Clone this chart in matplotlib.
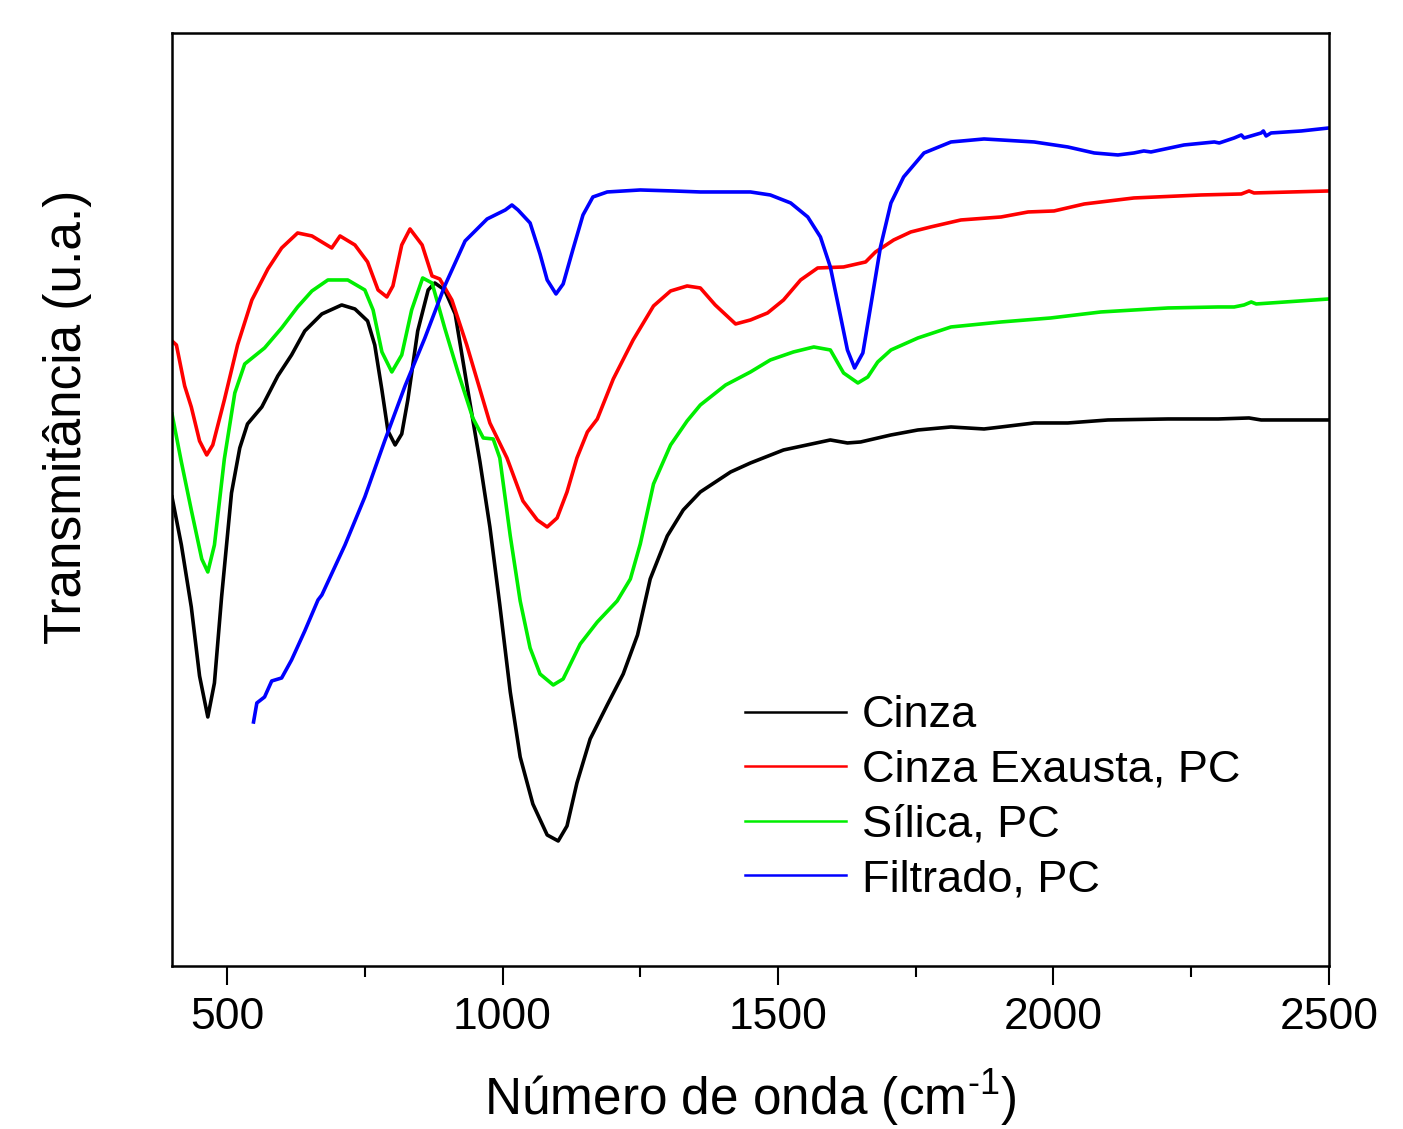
import matplotlib.pyplot as plt
from matplotlib.ticker import MultipleLocator, NullLocator

plt.rcParams['font.family'] = ['Liberation Sans', 'DejaVu Sans']
plt.rcParams['mathtext.fontset'] = 'custom'
plt.rcParams['mathtext.rm'] = 'Liberation Sans'
plt.rcParams['mathtext.default'] = 'regular'

# Cinza
cinza_x = [400, 417, 435, 450, 465, 477, 490, 508, 523, 537, 563, 592, 617, 641, 672, 708,
           732, 755, 768, 781, 792, 805, 817, 828, 846, 865, 877, 895, 914, 935, 959, 977,
           995, 1014, 1032, 1055, 1081, 1101, 1117, 1135, 1159, 1190, 1219, 1245, 1268, 1299,
           1328, 1359, 1414, 1450, 1510, 1595, 1626, 1650, 1705, 1754, 1814, 1874, 1905, 1965,
           2026, 2099, 2208, 2299, 2355, 2377, 2500]
cinza_y = [469, 421, 359, 290, 249, 283, 369, 473, 518, 542, 559, 590, 611, 635, 652, 661,
           657, 645, 621, 576, 535, 521, 532, 566, 635, 676, 683, 676, 652, 582, 504, 439,
           361, 274, 209, 162, 131, 125, 140, 183, 227, 261, 292, 331, 387, 430,
           456, 474, 494, 503, 516, 526, 523, 524, 531, 536, 539, 537, 539, 543,
           543, 546, 547, 547, 548, 546, 546]

# Cinza Exausta, PC
exausta_x = [400, 408, 423, 435, 450, 463, 474, 495, 519, 545, 574, 599, 628, 654, 690, 705,
             732, 755, 774, 790, 801, 817, 832, 854, 872, 886, 908, 935, 977, 1008, 1037, 1063,
             1081, 1099, 1117, 1135, 1154, 1172, 1201, 1237, 1274, 1305, 1335, 1359, 1386, 1423,
             1450, 1481, 1510, 1541, 1572, 1619, 1659, 1677, 1710, 1741, 1777, 1832, 1905, 1954,
             2001, 2056, 2146, 2268, 2341, 2355, 2364, 2500]
exausta_y = [625, 621, 580, 559, 525, 511, 521, 566, 621, 666, 697, 718, 733, 730, 718, 730,
             721, 704, 676, 669, 680, 721, 737, 721, 690, 687, 666, 621, 543, 508, 465, 446,
             439, 448, 474, 508, 534, 547, 587, 626, 660, 675, 680, 678, 661, 642,
             646, 653, 666, 686, 698, 699, 704, 714, 726, 734, 739, 746, 749, 754,
             755, 762, 768, 771, 772, 775, 773, 775]

# Silica, PC
silica_x = [400, 417, 435, 454, 465, 477, 495, 514, 532, 568, 599, 628, 654, 683, 719, 750,
            765, 781, 799, 817, 835, 855, 872, 895, 919, 946, 965, 983, 995, 1014, 1032, 1050,
            1068, 1092, 1110, 1141, 1172, 1208, 1232, 1250, 1274, 1305, 1335, 1359, 1405, 1450,
            1486, 1528, 1565, 1595, 1619, 1645, 1663, 1681, 1705, 1754, 1814, 1905, 1995, 2086,
            2208, 2299, 2328, 2346, 2359, 2368, 2500]
silica_y = [552, 504, 456, 407, 394, 421, 507, 573, 602, 618, 638, 659, 675, 686, 686, 676,
            656, 614, 594, 611, 656, 688, 683, 638, 594, 548, 528, 527, 508, 430, 365, 318,
            292, 281, 287, 322, 344, 365, 387, 422, 482, 521, 545, 561, 581, 594,
            606, 614, 619, 616, 593, 583, 589, 604, 616, 628, 639, 644, 648, 654,
            658, 659, 659, 661, 664, 662, 667]

# Filtrado, PC
filtrado_x = [548, 554, 561, 568, 581, 599, 617, 641, 665, 672, 714, 750, 786, 823, 859, 895,
              932, 972, 1005, 1017, 1028, 1050, 1068, 1081, 1097, 1110, 1128, 1146, 1164, 1190,
              1250, 1310, 1359, 1450, 1486, 1523, 1554, 1577, 1595, 1610, 1626, 1639, 1654, 1668,
              1686, 1705, 1728, 1765, 1814, 1874, 1905, 1965, 2026, 2074, 2117, 2146, 2164, 2177,
              2237, 2292, 2301, 2328, 2341, 2346, 2377, 2381, 2386, 2395, 2450, 2500]
filtrado_y = [244, 263, 266, 269, 285, 288, 306, 335, 366, 371, 421, 469, 525, 580, 628, 680,
              725, 747, 756, 761, 756, 743, 712, 686, 672, 682, 717, 751, 769, 774,
              776, 775, 774, 774, 771, 763, 749, 729, 699, 659, 616, 598, 613, 659,
              719, 763, 789, 813, 824, 827, 826, 824, 819, 813, 811, 813, 815, 814,
              821, 824, 823, 828, 831, 828, 833, 835, 830, 833, 835, 838]

series = [
    ("Cinza", cinza_x, cinza_y, "#000000"),
    ("Cinza Exausta, PC", exausta_x, exausta_y, "#ff0000"),
    ("Sílica, PC", silica_x, silica_y, "#00ee00"),
    ("Filtrado, PC", filtrado_x, filtrado_y, "#0000ff"),
]

fig = plt.figure(figsize=(14.03, 11.29), dpi=100)
ax = fig.add_axes([0.1226, 0.1444, 0.8246, 0.8264])

for name, xs, ys, col in series:
    ax.plot(xs, ys, color=col, linewidth=2.6, label=name, solid_joinstyle='round')

ax.set_xlim(400, 2500)
ax.set_ylim(0, 933)
ax.xaxis.set_major_locator(MultipleLocator(500))
ax.xaxis.set_minor_locator(MultipleLocator(250))
ax.yaxis.set_major_locator(NullLocator())
ax.tick_params(axis='x', which='major', direction='out', length=14, width=1.5,
               labelsize=32, pad=8)
ax.tick_params(axis='x', which='minor', direction='out', length=8, width=1.5)
for sp in ax.spines.values():
    sp.set_linewidth(1.8)

ax.set_xlabel(r'Número de onda (cm$^{\text{-}1}$)', fontsize=37, labelpad=22)
fig.text(68 / 1403, 1 - 417 / 1129, 'Transmitância (u.a.)', fontsize=37,
         rotation=90, ha='center', va='center')

leg = ax.legend(loc='upper left', bbox_to_anchor=(0.495, 0.29), frameon=False,
                fontsize=32.5, handlelength=2.25, handletextpad=0.34, labelspacing=0.3,
                borderpad=0, borderaxespad=0)
for ln in leg.get_lines():
    ln.set_linewidth(1.8)

plt.savefig('out.png', dpi=100)
